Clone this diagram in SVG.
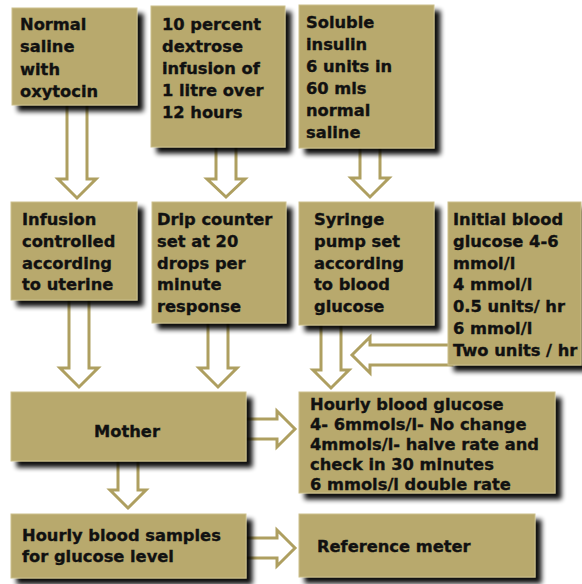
<svg xmlns="http://www.w3.org/2000/svg" width="582" height="584" viewBox="0 0 582 584">
<defs>
<filter id="sh" x="-20%" y="-20%" width="150%" height="150%">
<feGaussianBlur in="SourceAlpha" stdDeviation="2.5" result="b"/>
<feOffset in="b" dx="6" dy="6" result="o"/>
<feComponentTransfer in="o" result="s"><feFuncA type="linear" slope="0.95"/></feComponentTransfer>
<feMerge><feMergeNode in="s"/><feMergeNode in="SourceGraphic"/></feMerge>
</filter>
</defs>
<style>
.box{fill:#b8a96d;stroke:#cbbf8c;stroke-width:1;filter:url(#sh)}
.arr{fill:#ffffff;stroke:#ae9f60;stroke-width:3;stroke-linejoin:miter}
text{font-family:"DejaVu Sans",Verdana,sans-serif;font-weight:bold;font-size:16.3px;fill:#111111;stroke:#111111;stroke-width:0.35}
</style>
<rect width="582" height="584" fill="#ffffff"/>
<g id="connectors">
<path class="arr" d="M67,100 V179 H58 L77,198 L96,179 H87 V100 Z"/>
<path class="arr" d="M216,140 V179 H207 L226,197 L245,179 H236 V140 Z"/>
<path class="arr" d="M360,140 V178 H351 L370,197 L389,178 H380 V140 Z"/>
<path class="arr" d="M69,295 V368 H60 L79,387 L98,368 H89 V295 Z"/>
<path class="arr" d="M208,318 V368 H199 L218,387 L237,368 H228 V318 Z"/>
<path class="arr" d="M321,320 V370 H313 L331,388 L349,370 H341 V320 Z"/>
<path class="arr" d="M452,345 H370 V337 L352,355 L370,373 V365 H452 Z"/>
<path class="arr" d="M118,455 V490 H110 L128,508 L146,490 H138 V455 Z"/>
<path class="arr" d="M240,419 H277 V411 L295,429 L277,447 V439 H240 Z"/>
<path class="arr" d="M240,538 H277 V530 L295,548 L277,566 V558 H240 Z"/>
</g>
<g id="n1"><rect class="box" x="12" y="8" width="125" height="97"/>
<text x="20" y="30">Normal</text><text x="20" y="52.3">saline</text><text x="20" y="74.6">with</text><text x="20" y="96.9">oxytocin</text></g>
<g id="n2"><rect class="box" x="151" y="6" width="134" height="141"/>
<text x="162" y="30">10 percent</text><text x="162" y="52">dextrose</text><text x="162" y="74">infusion of</text><text x="162" y="96">1 litre over</text><text x="162" y="118">12 hours</text></g>
<g id="n3"><rect class="box" x="299" y="5" width="135" height="143"/>
<text x="306" y="28">Soluble</text><text x="306" y="50">insulin</text><text x="306" y="72">6 units in</text><text x="306" y="94">60 mls</text><text x="306" y="116">normal</text><text x="306" y="138">saline</text></g>
<g id="n4"><rect class="box" x="11" y="202" width="126" height="98"/>
<text x="22" y="225">Infusion</text><text x="22" y="246.8">controlled</text><text x="22" y="268.6">according</text><text x="22" y="290.4">to uterine</text></g>
<g id="n5"><rect class="box" x="152" y="202" width="134" height="121"/>
<text x="157" y="225">Drip counter</text><text x="157" y="246.8">set at 20</text><text x="157" y="268.6">drops per</text><text x="157" y="290.4">minute</text><text x="157" y="312.2">response</text></g>
<g id="n6"><rect class="box" x="299" y="202" width="135" height="123"/>
<text x="314" y="225">Syringe</text><text x="314" y="246.8">pump set</text><text x="314" y="268.6">according</text><text x="314" y="290.4">to blood</text><text x="314" y="312.2">glucose</text></g>
<g id="n7"><rect class="box" x="448" y="202" width="133" height="163"/>
<text x="453" y="225">Initial blood</text><text x="453" y="246.8">glucose 4-6</text><text x="453" y="268.6">mmol/l</text><text x="453" y="290.4">4 mmol/l</text><text x="453" y="312.2">0.5 units/ hr</text><text x="453" y="334">6 mmol/l</text><text x="453" y="355.8">Two units / hr</text></g>
<g id="n8"><rect class="box" x="11" y="392" width="235" height="69"/>
<text x="127" y="437" text-anchor="middle">Mother</text></g>
<g id="n9"><rect class="box" x="299" y="392" width="256" height="101"/>
<text x="310" y="410">Hourly blood glucose</text><text x="310" y="430">4- 6mmols/l- No change</text><text x="310" y="450">4mmols/l- halve rate and</text><text x="310" y="470">check in 30 minutes</text><text x="310" y="490">6 mmols/l double rate</text></g>
<g id="n10"><rect class="box" x="11" y="514" width="235" height="64"/>
<text x="22" y="541">Hourly blood samples</text><text x="22" y="562">for glucose level</text></g>
<g id="n11"><rect class="box" x="299" y="514" width="236" height="63"/>
<text x="317" y="552">Reference meter</text></g>
</svg>
